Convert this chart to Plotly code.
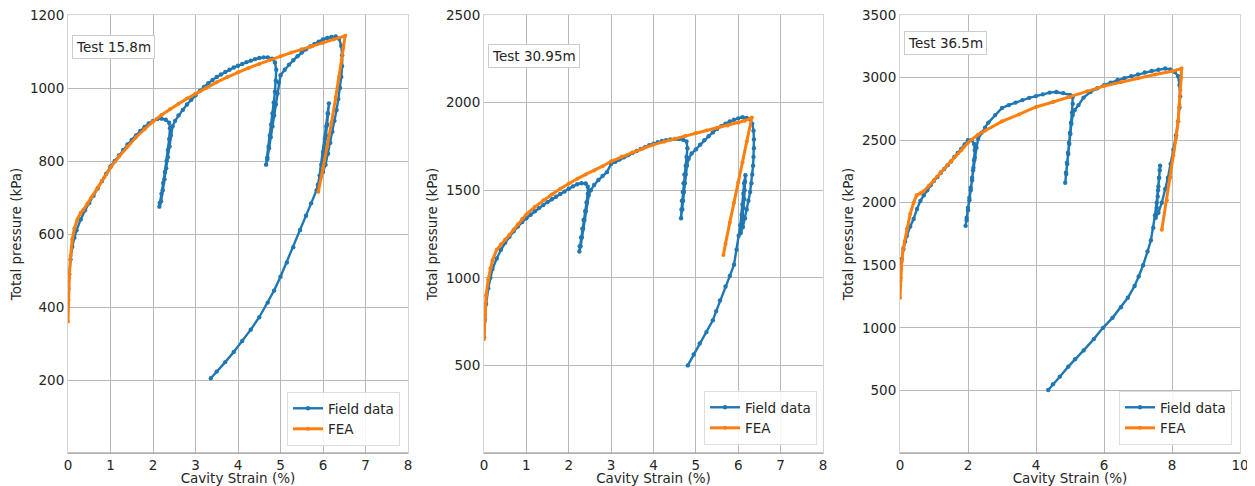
import plotly.graph_objects as go

# ---------------- Data ----------------
titles = ["Test 15.8m", "Test 30.95m", "Test 36.5m"]
x_ranges = [[0, 8], [0, 8], [0, 10]]
y_ranges = [[0, 1200], [0, 2500], [0, 3500]]
x_ticks = [[0, 1, 2, 3, 4, 5, 6, 7, 8], [0, 1, 2, 3, 4, 5, 6, 7, 8], [0, 2, 4, 6, 8, 10]]
y_ticks = [[200, 400, 600, 800, 1000, 1200], [500, 1000, 1500, 2000, 2500],
           [500, 1000, 1500, 2000, 2500, 3000, 3500]]

# Test 15.8m - field data
field1_x = [0.00, 0.01, 0.03, 0.06, 0.10, 0.15, 0.20, 0.30, 0.40, 0.50, 0.60, 0.70, 0.80, 0.90, 1.00,
            1.10, 1.20, 1.30, 1.40, 1.50, 1.60, 1.70, 1.80, 1.90, 2.00, 2.10, 2.20, 2.30, 2.38,
            2.40, 2.38, 2.35, 2.32, 2.28, 2.24, 2.20, 2.16, 2.15,
            2.19, 2.23, 2.27, 2.31, 2.35, 2.39, 2.42, 2.46, 2.52, 2.60, 2.70, 2.80, 2.90, 3.00,
            3.10, 3.20, 3.30, 3.40, 3.50, 3.60, 3.70, 3.80, 3.90, 4.00, 4.10, 4.20, 4.30, 4.40,
            4.50, 4.60, 4.70, 4.80, 4.87,
            4.90, 4.89, 4.87, 4.84, 4.81, 4.78, 4.75, 4.72, 4.69, 4.66,
            4.69, 4.73, 4.77, 4.81, 4.85, 4.89, 4.93, 4.96, 5.00, 5.10, 5.20, 5.30, 5.40, 5.50,
            5.60, 5.70, 5.80, 5.90, 6.00, 6.10, 6.20, 6.30, 6.38, 6.43,
            6.45, 6.45, 6.43, 6.40, 6.36, 6.32, 6.27, 6.22, 6.17, 6.12, 6.06, 6.00, 5.94,
            5.97, 6.01, 6.04, 6.07, 6.10, 6.12, 6.14,
            6.11, 6.08, 6.04, 6.00, 5.96, 5.92, 5.88, 5.85, 5.72, 5.60, 5.46, 5.30, 5.15, 5.00,
            4.85, 4.70, 4.50, 4.30, 4.10, 3.90, 3.70, 3.50, 3.36]
field1_p = [420, 450, 490, 530, 565, 590, 610, 640, 665, 685, 705, 725, 745, 765, 785,
            800, 815, 830, 845, 858, 870, 882, 893, 903, 910, 915, 916, 913, 905,
            890, 860, 830, 800, 770, 740, 710, 685, 675,
            690, 720, 750, 780, 810, 840, 870, 895, 910, 925, 940, 955, 968, 980,
            992, 1003, 1013, 1022, 1030, 1037, 1044, 1050, 1056, 1061, 1066, 1071, 1075, 1079,
            1082, 1084, 1084, 1080, 1070,
            1050, 1020, 990, 960, 930, 900, 870, 840, 810, 790,
            805, 835, 865, 895, 925, 955, 985, 1015, 1035, 1050, 1064, 1076, 1087, 1097,
            1106, 1114, 1121, 1127, 1133, 1137, 1140, 1141, 1135, 1115,
            1090, 1060, 1030, 1000, 970, 940, 910, 880, 850, 820, 790, 770, 755,
            780, 810, 840, 870, 900, 930, 958,
            930, 895, 860, 825, 790, 760, 735, 720, 684, 650, 611, 564, 522, 483,
            445, 412, 372, 338, 307, 277, 249, 223, 205]

# Test 15.8m - FEA
fea1_x = [0.00, 0.01, 0.03, 0.06, 0.10, 0.15, 0.22, 0.30, 0.36, 0.45, 0.55, 0.70, 0.85, 1.00,
          1.20, 1.40, 1.60, 1.80, 2.00, 2.20, 2.40, 2.60, 2.80, 3.00, 3.25, 3.50, 3.75, 4.00,
          4.25, 4.50, 4.75, 5.00, 5.25, 5.50, 5.75, 6.00, 6.25, 6.52,
          6.48, 6.44, 6.38, 6.30, 6.20, 6.10, 6.00, 5.89]
fea1_p = [360, 420, 480, 540, 585, 615, 640, 658, 666, 682, 700, 727, 755, 782,
          812, 840, 865, 887, 908, 926, 942, 957, 971, 984, 1000, 1016, 1030, 1043,
          1055, 1066, 1077, 1087, 1097, 1106, 1115, 1124, 1133, 1143,
          1110, 1077, 1030, 975, 905, 840, 780, 716]

# Test 30.95m - field data
field2_x = [0.00, 0.02, 0.05, 0.10, 0.15, 0.20, 0.30, 0.40, 0.50, 0.60, 0.70, 0.80, 0.90, 1.00,
            1.10, 1.20, 1.30, 1.40, 1.50, 1.60, 1.70, 1.80, 1.90, 2.00, 2.10, 2.20, 2.30, 2.40, 2.45,
            2.45, 2.42, 2.39, 2.35, 2.32, 2.29, 2.26, 2.25,
            2.28, 2.31, 2.34, 2.37, 2.40, 2.43, 2.47, 2.52, 2.60, 2.70, 2.80, 2.90, 3.00, 3.10,
            3.20, 3.30, 3.40, 3.50, 3.60, 3.70, 3.80, 3.90, 4.00, 4.10, 4.20, 4.30, 4.40, 4.50,
            4.60, 4.70, 4.78,
            4.80, 4.78, 4.76, 4.73, 4.71, 4.69, 4.67, 4.66, 4.65,
            4.68, 4.70, 4.72, 4.74, 4.76, 4.79, 4.83, 4.90, 5.00, 5.10, 5.20, 5.30, 5.40, 5.50,
            5.60, 5.70, 5.80, 5.90, 6.00, 6.10, 6.20, 6.28, 6.33,
            6.36, 6.37, 6.37, 6.36, 6.35, 6.33, 6.31, 6.28, 6.24, 6.20, 6.16, 6.11, 6.06,
            6.08, 6.10, 6.12, 6.14, 6.15, 6.16, 6.17,
            6.14, 6.12, 6.10, 6.08, 6.05, 6.01, 5.96, 5.90, 5.80, 5.70, 5.57, 5.48, 5.40, 5.25,
            5.09, 4.95, 4.81]
field2_p = [660, 760, 850, 940, 1000, 1050, 1110, 1160, 1200, 1235, 1265, 1293, 1318, 1340,
            1360, 1380, 1398, 1415, 1432, 1448, 1463, 1478, 1492, 1508, 1522, 1534, 1540, 1538, 1520,
            1480, 1430, 1380, 1330, 1280, 1230, 1180, 1150,
            1180, 1230, 1280, 1330, 1380, 1430, 1470, 1500, 1530, 1558, 1582, 1603, 1650, 1662,
            1675, 1688, 1700, 1712, 1724, 1735, 1746, 1757, 1766, 1774, 1781, 1786, 1790, 1792,
            1792, 1788, 1778,
            1740, 1690, 1640, 1590, 1540, 1490, 1440, 1390, 1340,
            1390, 1440, 1490, 1540, 1590, 1640, 1680, 1710, 1733, 1760, 1785, 1808, 1830, 1850,
            1866, 1880, 1892, 1902, 1910, 1916, 1912, 1905, 1880,
            1840, 1790, 1740, 1690, 1640, 1590, 1540, 1490, 1440, 1390, 1340, 1290, 1255,
            1300, 1350, 1400, 1450, 1500, 1550, 1585,
            1540, 1480, 1420, 1360, 1300, 1240, 1160, 1075, 1010, 950, 871, 810, 757, 690,
            625, 562, 500]

# Test 30.95m - FEA
fea2_x = [0.00, 0.02, 0.05, 0.10, 0.15, 0.20, 0.30, 0.40, 0.50, 0.60, 0.70, 0.80, 0.90, 1.00,
          1.20, 1.40, 1.60, 1.80, 2.00, 2.20, 2.40, 2.60, 2.80, 3.00, 3.25, 3.50, 3.75, 4.00,
          4.25, 4.50, 4.75, 5.00, 5.25, 5.50, 5.75, 6.00, 6.15, 6.32,
          6.20, 6.10, 6.00, 5.90, 5.80, 5.70, 5.65]
fea2_p = [650, 790, 900, 990, 1055, 1100, 1160, 1192, 1218, 1245, 1275, 1305, 1335, 1362,
          1405, 1442, 1475, 1508, 1538, 1565, 1590, 1613, 1637, 1665, 1692, 1715, 1738, 1760,
          1777, 1794, 1810, 1826, 1841, 1856, 1870, 1885, 1896, 1915,
          1780, 1660, 1545, 1430, 1315, 1195, 1130]

# Test 36.5m - field data
field3_x = [0.00, 0.02, 0.05, 0.10, 0.15, 0.20, 0.30, 0.40, 0.50, 0.60, 0.70, 0.80, 0.90, 1.00,
            1.10, 1.20, 1.30, 1.40, 1.50, 1.60, 1.70, 1.80, 1.90, 2.00, 2.10, 2.18,
            2.20, 2.18, 2.15, 2.12, 2.08, 2.04, 2.00, 1.96, 1.93,
            1.96, 2.00, 2.04, 2.08, 2.12, 2.16, 2.20, 2.25, 2.30, 2.40, 2.50, 2.60, 2.80, 3.00,
            3.20, 3.40, 3.60, 3.80, 4.00, 4.20, 4.40, 4.60, 4.80, 5.00, 5.08,
            5.08, 5.06, 5.03, 5.00, 4.97, 4.94, 4.91, 4.88, 4.86,
            4.89, 4.92, 4.95, 4.98, 5.01, 5.04, 5.08, 5.14, 5.25, 5.40, 5.60, 5.80, 6.00, 6.20,
            6.40, 6.60, 6.80, 7.00, 7.20, 7.40, 7.60, 7.80, 7.95, 8.08, 8.18,
            8.22, 8.24, 8.22, 8.18, 8.12, 8.04, 7.96, 7.88, 7.80, 7.70, 7.60, 7.52,
            7.55, 7.58, 7.60, 7.62, 7.64, 7.65,
            7.62, 7.59, 7.55, 7.50, 7.45, 7.38, 7.28, 7.15, 7.02, 6.90, 6.70, 6.50, 6.25, 5.97,
            5.70, 5.40, 5.15, 4.95, 4.70, 4.50, 4.36]
field3_p = [1380, 1470, 1550, 1630, 1690, 1735, 1810, 1870, 1950, 2015, 2060, 2100, 2140, 2175,
            2205, 2240, 2270, 2300, 2330, 2365, 2398, 2430, 2465, 2500, 2500, 2470,
            2420, 2340, 2260, 2180, 2100, 2020, 1940, 1860, 1815,
            1880, 1960, 2040, 2120, 2200, 2280, 2360, 2440, 2510, 2560, 2600, 2640, 2700, 2757,
            2780, 2800, 2820, 2838, 2852, 2866, 2880, 2885, 2876, 2862, 2845,
            2790, 2720, 2640, 2560, 2480, 2400, 2320, 2240, 2160,
            2230, 2310, 2390, 2470, 2550, 2630, 2700, 2740, 2780, 2840, 2885, 2915, 2940, 2960,
            2980, 2995, 3010, 3025, 3040, 3052, 3062, 3072, 3065, 3045, 3010,
            2940, 2850, 2760, 2650, 2540, 2424, 2310, 2200, 2110, 2000, 1920, 1880,
            1960, 2050, 2130, 2200, 2260, 2295,
            2200, 2100, 2000, 1900, 1800, 1700, 1610, 1500, 1410, 1335, 1240, 1165, 1080, 1000,
            910, 820, 750, 690, 610, 550, 504]

# Test 36.5m - FEA
fea3_x = [0.00, 0.02, 0.05, 0.10, 0.20, 0.30, 0.40, 0.49, 0.60, 0.69, 0.85, 1.00, 1.20, 1.50,
          1.80, 2.00, 2.30, 2.50, 3.00, 3.50, 4.00, 4.50, 5.00, 5.50, 6.00, 6.50, 7.00, 7.50,
          8.00, 8.28,
          8.27, 8.25, 8.22, 8.18, 8.12, 8.04, 7.95, 7.85, 7.70]
fea3_p = [1240, 1400, 1530, 1640, 1790, 1910, 2000, 2060, 2075, 2090, 2135, 2180, 2245, 2330,
          2420, 2480, 2545, 2575, 2650, 2705, 2765, 2805, 2845, 2890, 2932, 2965, 2995, 3025,
          3050, 3072,
          3000, 2900, 2780, 2650, 2520, 2380, 2200, 2020, 1784]

fields_x = [field1_x, field2_x, field3_x]
fields_p = [field1_p, field2_p, field3_p]
feas_x = [fea1_x, fea2_x, fea3_x]
feas_p = [fea1_p, fea2_p, fea3_p]

# ---------------- Figure ----------------
# the page body adds an 8 px margin, so the figure is 8 px smaller and all
# pixel positions below are in page coordinates minus 8.
OFF = 8
W, H = 1255 - OFF, 486 - OFF
BLUE, ORANGE = "#1f77b4", "#ff7f0e"
FONT = "DejaVu Sans"
top_px, bot_px = 15 - OFF, 453 - OFF
x_dom_px = [(68 - OFF, 408 - OFF), (484 - OFF, 823 - OFF), (900 - OFF, 1240 - OFF)]
ann_top_px = [35 - OFF, 44 - OFF, 31 - OFF]
legend_right_px = [400 - OFF, 817 - OFF, 1232 - OFF]
legend_bottom_px = [446 - OFF, 445 - OFF, 445 - OFF]

fig = go.Figure()
legend_names = ["legend", "legend2", "legend3"]
axis_ids = ["", "2", "3"]

for i in range(3):
    ax = axis_ids[i]
    fig.add_trace(go.Scatter(
        x=fields_x[i], y=fields_p[i], mode="lines+markers", name="Field data",
        line=dict(color=BLUE, width=2.4), marker=dict(color=BLUE, size=4.4),
        xaxis="x" + ax, yaxis="y" + ax, legend=legend_names[i]))
    fig.add_trace(go.Scatter(
        x=feas_x[i], y=feas_p[i], mode="lines+markers", name="FEA",
        line=dict(color=ORANGE, width=3), marker=dict(color=ORANGE, size=4),
        xaxis="x" + ax, yaxis="y" + ax, legend=legend_names[i]))

layout = dict(
    width=W, height=H,
    margin=dict(l=0, r=0, t=0, b=0),
    paper_bgcolor="white", plot_bgcolor="white",
    font=dict(family=FONT, size=13, color="#262626"),
    showlegend=True,
)

ydom = [1 - bot_px / H, 1 - top_px / H]
for i in range(3):
    ax = axis_ids[i]
    l, r = x_dom_px[i]
    layout["xaxis" + ax] = dict(
        domain=[l / W, r / W], range=x_ranges[i], tickvals=x_ticks[i],
        showgrid=True, gridcolor="#b8b8b8", gridwidth=1,
        showline=True, linecolor="#d4d4d4", linewidth=1, mirror=True,
        ticks="", ticklabeloverflow="allow",
        tickfont=dict(size=13.5), zeroline=False, automargin=False,
        anchor="y" + ax,
        title=dict(text="Cavity Strain (%)", font=dict(size=13.5), standoff=7),
    )
    layout["yaxis" + ax] = dict(
        domain=ydom, range=y_ranges[i], tickvals=y_ticks[i],
        showgrid=True, gridcolor="#b8b8b8", gridwidth=1,
        showline=True, linecolor="#d4d4d4", linewidth=1, mirror=True,
        ticks="", ticklabeloverflow="allow",
        tickfont=dict(size=13.5), zeroline=False, automargin=False,
        anchor="x" + ax,
        title=dict(text="Total pressure (kPa)", font=dict(size=13.5), standoff=5),
    )
    layout[legend_names[i]] = dict(
        x=legend_right_px[i] / W, y=1 - legend_bottom_px[i] / H,
        xanchor="right", yanchor="bottom",
        bgcolor="rgba(255,255,255,0.85)", bordercolor="#dddddd", borderwidth=1,
        font=dict(size=13.5, family=FONT, color="#262626"),
        itemwidth=30, tracegroupgap=0,
    )

fig.update_layout(**layout)

# darker bottom spines
for i in range(3):
    ax = axis_ids[i]
    fig.add_shape(type="line", xref=f"x{ax} domain", yref=f"y{ax} domain",
                  x0=0, x1=1, y0=0, y1=0, line=dict(color="#8c8c8c", width=1.2))

# test labels
for i in range(3):
    ax = axis_ids[i]
    fig.add_annotation(
        text=titles[i], xref=f"x{ax} domain", yref=f"y{ax} domain",
        x=0.013, y=1 - (ann_top_px[i] - top_px) / (bot_px - top_px),
        xanchor="left", yanchor="top", showarrow=False,
        font=dict(size=13.5, family=FONT, color="#262626"),
        bgcolor="white", bordercolor="#cccccc", borderwidth=1, borderpad=3,
    )

fig.write_html("out.html")
